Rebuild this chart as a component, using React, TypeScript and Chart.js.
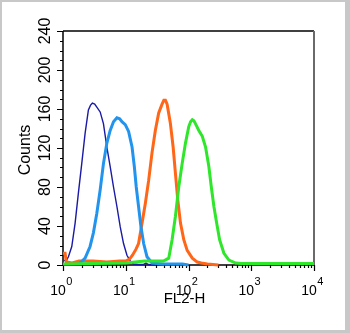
import React, { useEffect, useRef } from "react";
import { Chart, registerables } from "chart.js";
Chart.register(...registerables);

// FL2-H channel values and counts
const navyX = [1.02, 1.12, 1.22, 1.38, 1.56, 1.76, 1.99, 2.25, 2.54, 2.75, 2.94, 3.2, 3.46, 3.91, 4.41, 5.0, 5.65, 6.38, 7.23, 8.17, 9.22, 10.45, 11.8, 13.2, 16, 19, 21, 23, 30];
const navyY = [5, 4, 8.5, 19, 43, 74, 104, 135, 159, 164, 166, 165, 162, 157, 145, 121, 101, 80, 60, 39, 22, 10, 4, 1, 0.5, 0.5, 2, 0.5, 0];

const lightBlueX = [1.75, 1.87, 2.25, 2.7, 3.05, 3.46, 3.91, 4.41, 5.0, 5.65, 6.38, 7.23, 8.0, 8.69, 9.82, 11.1, 12.6, 13.7, 14.7, 16.0, 17.5, 19.3, 21.8, 26.2, 40, 80, 100];
const lightBlueY = [1, 2, 7, 19, 33, 53, 77, 104, 125, 138, 147, 151, 150, 147, 144, 137, 121, 101, 80, 60, 39, 22, 8.5, 2, 1, 1, 0];

const orangeX = [1.0, 1.08, 1.13, 1.4, 1.8, 3, 5, 8, 10, 11.5, 12.8, 14.5, 16, 18.2, 20.5, 23.2, 26.2, 29.6, 33.5, 37.9, 40.5, 42.9, 45.6, 48.5, 51.5, 56.9, 61.9, 67.4, 74.5, 84.1, 95.3, 115, 138, 160, 200, 300];
const orangeY = [12, 12, 3, 2, 4, 4, 3, 4, 4, 6, 10, 16, 22, 43, 63, 87, 115, 138, 156, 165, 169, 169, 165, 155, 145, 121, 94, 67, 43, 26, 15, 7, 3, 2, 1, 0];

const greenX = [1, 3, 10, 20, 40, 48.4, 54.8, 61.9, 69.9, 79.2, 89.5, 101, 108, 115, 122, 129, 146, 166, 187, 211, 231, 254, 281, 313, 367, 441, 565, 700, 10000];
const greenY = [1, 1.5, 2, 4, 4, 7, 26, 50, 80, 104, 125, 142, 147, 149, 148, 145, 138, 132, 121, 101, 80, 60, 43, 26, 12, 5, 2, 1.5, 1.5];

const yTickValues = [0, 40, 80, 120, 160, 200, 240];
const xTickExponents = [0, 1, 2, 3, 4];
const xAxisTitle = "FL2-H";
const yAxisTitle = "Counts";

const FONT = "'Liberation Sans', Arial, Helvetica, sans-serif";

export default function App() {
  const ref = useRef<HTMLCanvasElement>(null);
  useEffect(() => {
    document.body.style.margin = "0";
    const canvas = ref.current!;
    const pts = (xs: number[], ys: number[]) => xs.map((x, i) => ({ x, y: ys[i] }));

    const framePlugin = {
      id: "frame",
      beforeDatasetsDraw(chart: any) {
        const { ctx, chartArea: a, scales } = chart;
        const xs = scales.x, ys = scales.y;
        ctx.save();
        ctx.strokeStyle = "#000";
        ctx.lineWidth = 1.5;
        ctx.beginPath();
        ctx.moveTo(a.left, a.top);
        ctx.lineTo(a.right, a.top);
        ctx.stroke();
        ctx.strokeStyle = "#6a6a6a";
        ctx.lineWidth = 2;
        ctx.beginPath();
        ctx.moveTo(a.right, a.top);
        ctx.lineTo(a.right, a.bottom);
        ctx.stroke();
        ctx.strokeStyle = "#000";
        ctx.lineWidth = 1.5;
        ctx.beginPath();
        ctx.moveTo(a.left, a.top);
        ctx.lineTo(a.left, a.bottom);
        ctx.lineTo(a.right, a.bottom);
        ctx.stroke();
        ctx.lineWidth = 1.2;
        ctx.beginPath();
        for (let v = 0; v <= 240; v += 10) {
          const py = Math.round(ys.getPixelForValue(v)) + 0.5;
          const len = v % 40 === 0 ? 6 : 3;
          ctx.moveTo(a.left - len, py);
          ctx.lineTo(a.left, py);
        }
        for (let e = 0; e < 4; e++) {
          for (let m = 1; m <= 9; m++) {
            const px = Math.round(xs.getPixelForValue(m * Math.pow(10, e))) + 0.5;
            const len = m === 1 ? 6 : 3;
            ctx.moveTo(px, a.bottom);
            ctx.lineTo(px, a.bottom + len);
          }
        }
        const pxEnd = Math.round(xs.getPixelForValue(10000)) + 0.5;
        ctx.moveTo(pxEnd, a.bottom);
        ctx.lineTo(pxEnd, a.bottom + 6);
        ctx.stroke();

        ctx.fillStyle = "#000";
        ctx.font = `16px ${FONT}`;
        ctx.textAlign = "center";
        ctx.textBaseline = "alphabetic";
        for (const v of yTickValues) {
          const py = ys.getPixelForValue(v);
          ctx.save();
          ctx.translate(50, py);
          ctx.rotate(-Math.PI / 2);
          ctx.fillText(String(v), 0, 0);
          ctx.restore();
        }
        ctx.save();
        ctx.translate(29.5, (a.top + a.bottom) / 2 + 2);
        ctx.rotate(-Math.PI / 2);
        ctx.font = `16px ${FONT}`;
        ctx.fillText(yAxisTitle, 0, 0);
        ctx.restore();
        ctx.textAlign = "left";
        for (const e of xTickExponents) {
          const px = xs.getPixelForValue(Math.pow(10, e));
          ctx.font = `14px ${FONT}`;
          const w1 = ctx.measureText("10").width;
          ctx.font = `11px ${FONT}`;
          const w2 = ctx.measureText(String(e)).width;
          const start = px - (w1 + w2) / 2 - 2;
          ctx.font = `14px ${FONT}`;
          ctx.fillText("10", start, a.bottom + 30);
          ctx.font = `11px ${FONT}`;
          ctx.fillText(String(e), start + w1 + 0.5, a.bottom + 20);
        }
        ctx.textAlign = "center";
        ctx.font = `15px ${FONT}`;
        ctx.fillText(xAxisTitle, (a.left + a.right) / 2 - 4, a.bottom + 38);
        ctx.restore();
      },
      afterDraw(chart: any) {
        const { ctx, width, height } = chart;
        ctx.save();
        ctx.fillStyle = "#c8c8c8";
        ctx.fillRect(0, 0, width, 2);
        ctx.fillRect(0, 0, 2, height);
        ctx.fillRect(width - 5, 0, 5, height);
        ctx.fillRect(0, height - 3, width, 3);
        ctx.restore();
      },
    };

    const chart = new Chart(canvas, {
      type: "line",
      data: {
        datasets: [
          { data: pts(greenX, greenY), borderColor: "#2ee62a", borderWidth: 3 },
          { data: pts(lightBlueX, lightBlueY), borderColor: "#2294ee", borderWidth: 3 },
          { data: pts(orangeX, orangeY), borderColor: "#ff6618", borderWidth: 3 },
          { data: pts(navyX, navyY), borderColor: "#1a1aa6", borderWidth: 1.4 },
        ] as any,
      },
      options: {
        animation: false,
        responsive: false,
        devicePixelRatio: 1,
        clip: 6 as any,
        layout: { padding: { left: 63, right: 36, top: 31, bottom: 68 } },
        elements: {
          point: { radius: 0 },
          line: { tension: 0, borderJoinStyle: "miter" as any, fill: false },
        },
        plugins: { legend: { display: false }, tooltip: { enabled: false } },
        scales: {
          x: { type: "logarithmic", min: 1, max: 10000, display: false },
          y: { type: "linear", min: 0, max: 240, display: false },
        },
      },
      plugins: [framePlugin],
    });
    return () => chart.destroy();
  }, []);
  return <canvas ref={ref} width={350} height={333} style={{ display: "block" }} />;
}
